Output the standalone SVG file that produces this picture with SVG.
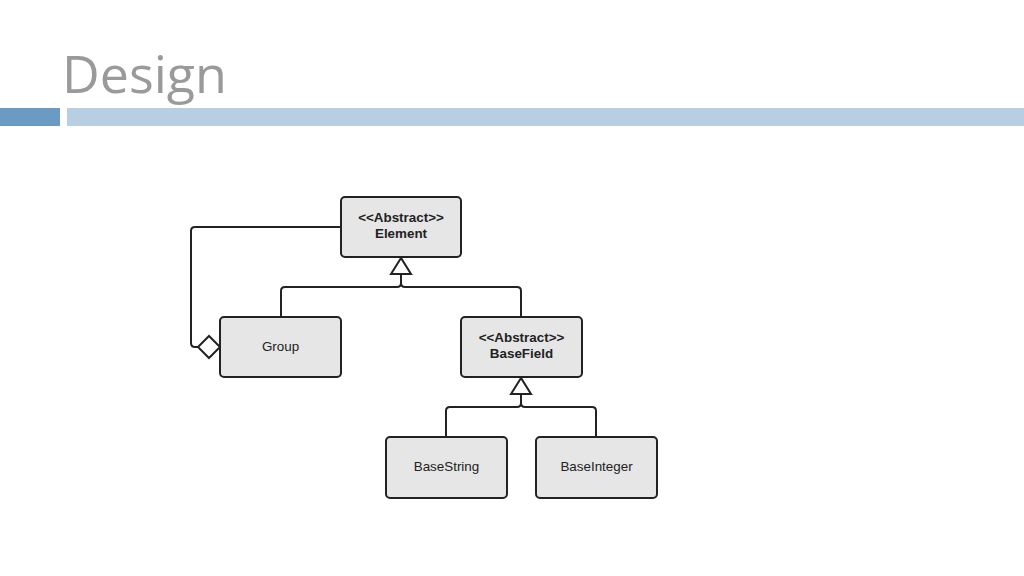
<svg xmlns="http://www.w3.org/2000/svg" width="1024" height="576" viewBox="0 0 1024 576">
<style>
.box{fill:#e6e6e6;stroke:#222;stroke-width:2}
.t{font-family:"Liberation Sans",Arial,sans-serif;font-size:13.4px;fill:#222;text-anchor:middle}
.b{font-weight:bold}
.c{fill:none;stroke:#222;stroke-width:2;stroke-linejoin:round}
.h{fill:#fff;stroke:#222;stroke-width:2;stroke-linejoin:miter}
</style>
<rect width="1024" height="576" fill="#fff"/>
<text x="62" y="93" font-family="'Open Sans','Liberation Sans',sans-serif" font-size="52" fill="#9a9a9a">Design</text>
<rect x="0" y="108" width="60" height="18" fill="#6b9bc3"/>
<rect x="67" y="108" width="957" height="18" fill="#b8cfe3"/>
<g id="connectors">
<path class="c" d="M401 274 V283 Q401 287 397 287 H285 Q281 287 281 291 V317"/>
<path class="c" d="M401 283 Q401 287 405 287 H517 Q521 287 521 291 V317"/>
<polygon class="h" points="401,258 391,274 411,274"/>
<path class="c" d="M521 394 V403 Q521 407 517 407 H450 Q446 407 446 411 V437"/>
<path class="c" d="M521 403 Q521 407 525 407 H592 Q596 407 596 411 V437"/>
<polygon class="h" points="521,378 511,394 531,394"/>
<path class="c" d="M341 227 H195 Q191 227 191 231 V343 Q191 347 195 347 H198"/>
<polygon class="h" points="220,347 209,336 198,347 209,358"/>
</g>
<g id="element">
<rect class="box" x="341" y="197" width="120" height="60" rx="4"/>
<text class="t b" x="401" y="222">&lt;&lt;Abstract&gt;&gt;</text>
<text class="t b" x="401" y="238">Element</text>
</g>
<g id="group">
<rect class="box" x="220" y="317" width="121" height="60" rx="4"/>
<text class="t" x="280.5" y="351">Group</text>
</g>
<g id="basefield">
<rect class="box" x="461" y="317" width="121" height="60" rx="4"/>
<text class="t b" x="521.5" y="342">&lt;&lt;Abstract&gt;&gt;</text>
<text class="t b" x="521.5" y="358">BaseField</text>
</g>
<g id="basestring">
<rect class="box" x="386" y="437" width="121" height="61" rx="4"/>
<text class="t" x="446.5" y="471">BaseString</text>
</g>
<g id="baseinteger">
<rect class="box" x="536" y="437" width="121" height="61" rx="4"/>
<text class="t" x="596.5" y="471">BaseInteger</text>
</g>
</svg>
